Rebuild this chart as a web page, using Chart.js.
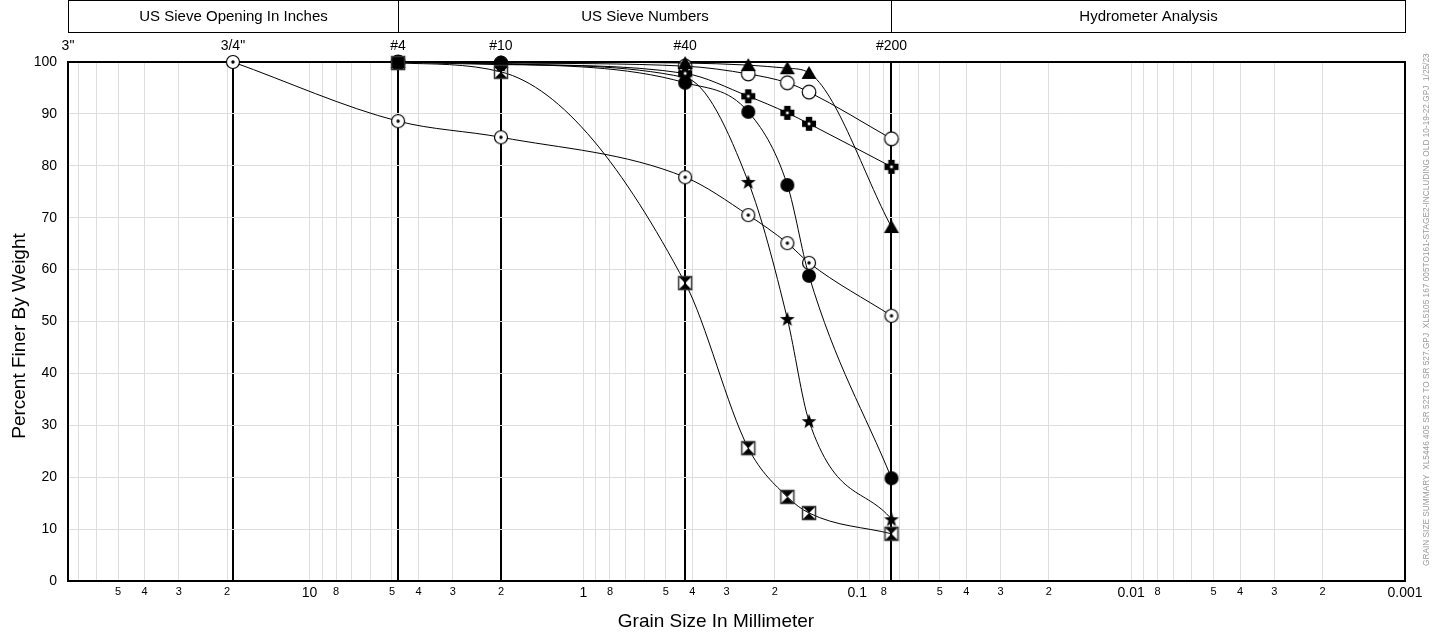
<!DOCTYPE html>
<html>
<head>
<meta charset="utf-8">
<script src="https://cdn.jsdelivr.net/npm/chart.js@4.4.0/dist/chart.umd.min.js"></script>
<style>
  html, body { margin: 0; padding: 0; background: #fff; }
</style>
</head>
<body>
<canvas id="grainChart" width="1437" height="635"></canvas>
<script>
// sieve openings in mm (3/4", #4, #10, #40, #60, #80, #100, #200)
var sieveSizes = [19.05, 4.75, 2.0, 0.425, 0.25, 0.18, 0.15, 0.075];

// percent passing per sample, same order as sieveSizes (null = not tested)
var dotCircleVals = [100, 88.6, 85.5, 77.8, 70.5, 65.1, 61.3, 51.1];
var openCircleVals = [null, 100, 99.8, 99.2, 97.7, 96.0, 94.2, 85.2];
var triangleVals = [null, 100, 100, 99.8, 99.4, 98.8, 97.9, 68.2];
var crossVals = [null, 100, 99.6, 97.8, 93.4, 90.2, 88.1, 79.8];
var filledCircleVals = [null, 100, 99.7, 96.0, 90.4, 76.3, 58.8, 19.8];
var starVals = [null, 100, 99.5, 97.0, 76.9, 50.5, 30.8, 11.9];
var hourglassVals = [null, 99.8, 98.1, 57.4, 25.6, 16.2, 13.1, 9.1];

// top axis sieve marks (heavy lines at all of them except the 3" edge)
var topTickSizes = [76.2, 19.05, 4.75, 2.0, 0.425, 0.075];
var topTickLabels = ['3"', '3/4"', '#4', '#10', '#40', '#200'];
var heavyLines = [19.05, 4.75, 2.0, 0.425, 0.075];

// header bands
var headerBands = [
  { label: 'US Sieve Opening In Inches', from: 76.2, to: 4.75 },
  { label: 'US Sieve Numbers', from: 4.75, to: 0.075 },
  { label: 'Hydrometer Analysis', from: 0.075, to: 0.001 }
];

var decades = [0.001, 0.01, 0.1, 1, 10];
var labelledDigits = [2, 3, 4, 5, 8];
var maxSize = 76.2, minSize = 0.001;
var fontFamily = '"Liberation Sans", Arial, sans-serif';

var sideNote = 'GRAIN SIZE SUMMARY  XL5446 405 SR 522 TO SR 527.GPJ  XL5105 167 005TO161-STAGE2-INCLUDING OLD 10-19-22.GPJ  1/25/23';

function isHeavy(v) {
  return heavyLines.some(function (s) { return Math.abs(s - v) < 1e-9; });
}
function isDecade(v) {
  return decades.some(function (d) { return Math.abs(d - v) < 1e-12; });
}

function grainTicks() {
  var vals = [];
  decades.forEach(function (d) {
    for (var m = 1; m <= 9; m++) {
      var v = Number((m * d).toPrecision(6));
      if (v <= maxSize) vals.push(v);
    }
  });
  heavyLines.forEach(function (s) {
    if (vals.indexOf(s) < 0) vals.push(s);
  });
  vals.sort(function (a, b) { return a - b; });
  return vals.map(function (v) { return { value: v }; });
}

// ---- marker glyphs ----
function glyph(draw) {
  var c = document.createElement('canvas');
  c.width = 18; c.height = 18;
  var g = c.getContext('2d');
  g.fillStyle = '#000';
  g.strokeStyle = '#000';
  g.lineWidth = 1.2;
  draw(g);
  return c;
}
var dotCircle = glyph(function (g) {
  g.beginPath(); g.arc(9, 9, 6.5, 0, Math.PI * 2);
  g.fillStyle = '#fff'; g.fill(); g.stroke();
  g.beginPath(); g.arc(9, 9, 1.7, 0, Math.PI * 2);
  g.fillStyle = '#000'; g.fill();
});
var openCircle = glyph(function (g) {
  g.beginPath(); g.arc(9, 9, 6.8, 0, Math.PI * 2);
  g.fillStyle = '#fff'; g.fill(); g.stroke();
});
var filledTriangle = glyph(function (g) {
  g.beginPath(); g.moveTo(9, 2); g.lineTo(16.5, 15); g.lineTo(1.5, 15); g.closePath();
  g.fill();
});
var crossGlyph = glyph(function (g) {
  g.fillRect(5.8, 2, 6.4, 14);
  g.fillRect(2, 5.8, 14, 6.4);
  g.fillStyle = '#fff';
  g.fillRect(7.7, 7.7, 2.6, 2.6);
});
var filledCircle = glyph(function (g) {
  g.beginPath(); g.arc(9, 9, 7, 0, Math.PI * 2); g.fill();
});
var starGlyph = glyph(function (g) {
  g.beginPath();
  for (var i = 0; i < 10; i++) {
    var r = i % 2 === 0 ? 7.8 : 3.2;
    var a = -Math.PI / 2 + i * Math.PI / 5;
    var px = 9 + r * Math.cos(a), py = 9.6 + r * Math.sin(a);
    if (i === 0) g.moveTo(px, py); else g.lineTo(px, py);
  }
  g.closePath(); g.fill();
});
var hourglass = glyph(function (g) {
  g.fillStyle = '#000';
  g.beginPath(); g.moveTo(2.5, 2.5); g.lineTo(15.5, 2.5); g.lineTo(9, 9); g.closePath(); g.fill();
  g.beginPath(); g.moveTo(2.5, 15.5); g.lineTo(15.5, 15.5); g.lineTo(9, 9); g.closePath(); g.fill();
  g.strokeStyle = '#333'; g.lineWidth = 1.5; g.strokeRect(2.5, 2.5, 13, 13);
});

function sample(vals, marker) {
  return {
    data: sieveSizes.map(function (s, i) { return { x: s, y: vals[i] }; }),
    borderColor: '#000',
    backgroundColor: '#000',
    borderWidth: 1,
    pointStyle: marker,
    pointRadius: 7,
    cubicInterpolationMode: 'monotone',
    fill: false,
    clip: false
  };
}

// frame, header bands, titles and side note
var sheetDecor = {
  id: 'sheetDecor',
  beforeDatasetsDraw: function (chart) {
    var a = chart.chartArea, ctx = chart.ctx;
    ctx.save();
    ctx.strokeStyle = '#000';
    ctx.lineWidth = 2;
    ctx.strokeRect(a.left, a.top, a.right - a.left, a.bottom - a.top);
    ctx.restore();
  },
  afterDraw: function (chart) {
    var ctx = chart.ctx, xs = chart.scales.x, a = chart.chartArea;
    ctx.save();
    ctx.strokeStyle = '#000';
    ctx.lineWidth = 1;
    ctx.fillStyle = '#000';
    ctx.font = '15px ' + fontFamily;
    ctx.textAlign = 'center';
    ctx.textBaseline = 'middle';
    headerBands.forEach(function (b) {
      var x0 = Math.round(xs.getPixelForValue(b.from)) + 0.5;
      var x1 = Math.round(xs.getPixelForValue(b.to)) + 0.5;
      ctx.strokeRect(x0, 0.5, x1 - x0, 32);
      ctx.fillText(b.label, (x0 + x1) / 2, 17);
    });

    ctx.font = '19px ' + fontFamily;
    ctx.fillText('Grain Size In Millimeter', 716, 622);
    ctx.save();
    ctx.translate(20, 336);
    ctx.rotate(-Math.PI / 2);
    ctx.fillText('Percent Finer By Weight', 0, 0);
    ctx.restore();

    ctx.font = '8.3px ' + fontFamily;
    ctx.fillStyle = '#9a9a9a';
    ctx.textAlign = 'left';
    ctx.translate(a.right + 22, 566);
    ctx.rotate(-Math.PI / 2);
    ctx.fillText(sideNote, 0, 0);
    ctx.restore();
  }
};

new Chart(document.getElementById('grainChart'), {
  type: 'line',
  data: {
    datasets: [
      sample(hourglassVals, hourglass),
      sample(filledCircleVals, filledCircle),
      sample(triangleVals, filledTriangle),
      sample(crossVals, crossGlyph),
      sample(openCircleVals, openCircle),
      sample(starVals, starGlyph),
      sample(dotCircleVals, dotCircle)
    ]
  },
  options: {
    responsive: false,
    devicePixelRatio: 1,
    animation: false,
    layout: { padding: { left: 0, right: 32, top: 0, bottom: 0 } },
    plugins: {
      legend: { display: false },
      tooltip: { enabled: false }
    },
    scales: {
      x: {
        type: 'logarithmic',
        reverse: true,
        min: minSize,
        max: maxSize,
        afterBuildTicks: function (scale) { scale.ticks = grainTicks(); },
        afterFit: function (scale) { scale.height = 54; },
        border: { display: false },
        grid: {
          drawTicks: false,
          color: function (ctx) { return ctx.tick && isHeavy(ctx.tick.value) ? '#000' : '#dedede'; },
          lineWidth: function (ctx) { return ctx.tick && isHeavy(ctx.tick.value) ? 2 : 1; }
        },
        ticks: {
          autoSkip: false,
          maxRotation: 0,
          padding: 4,
          color: '#000',
          font: function (ctx) {
            var big = ctx.tick && isDecade(ctx.tick.value);
            return { family: fontFamily, size: big ? 14 : 11 };
          },
          callback: function (value) {
            if (isDecade(value)) return String(value);
            var exp = Math.floor(Math.log10(value) + 1e-9);
            var digit = Math.round(value / Math.pow(10, exp));
            if (Math.abs(digit * Math.pow(10, exp) - value) > 1e-9 * value) return '';
            return labelledDigits.indexOf(digit) >= 0 ? String(digit) : '';
          }
        }
      },
      xTop: {
        type: 'logarithmic',
        position: 'top',
        reverse: true,
        min: minSize,
        max: maxSize,
        afterBuildTicks: function (scale) {
          scale.ticks = topTickSizes.map(function (v) { return { value: v }; });
        },
        afterFit: function (scale) { scale.height = 62; },
        border: { display: false },
        grid: { display: false, drawTicks: false },
        ticks: {
          autoSkip: false,
          maxRotation: 0,
          padding: 7,
          color: '#000',
          font: { family: fontFamily, size: 14 },
          callback: function (value) {
            var i = topTickSizes.indexOf(value);
            return i >= 0 ? topTickLabels[i] : '';
          }
        }
      },
      y: {
        min: 0,
        max: 100,
        afterFit: function (scale) { scale.width = 68; },
        border: { display: false },
        grid: { drawTicks: false, color: '#dedede' },
        ticks: {
          stepSize: 10,
          padding: 11,
          color: '#000',
          font: { family: fontFamily, size: 14 }
        }
      }
    }
  },
  plugins: [sheetDecor]
});
</script>
</body>
</html>
